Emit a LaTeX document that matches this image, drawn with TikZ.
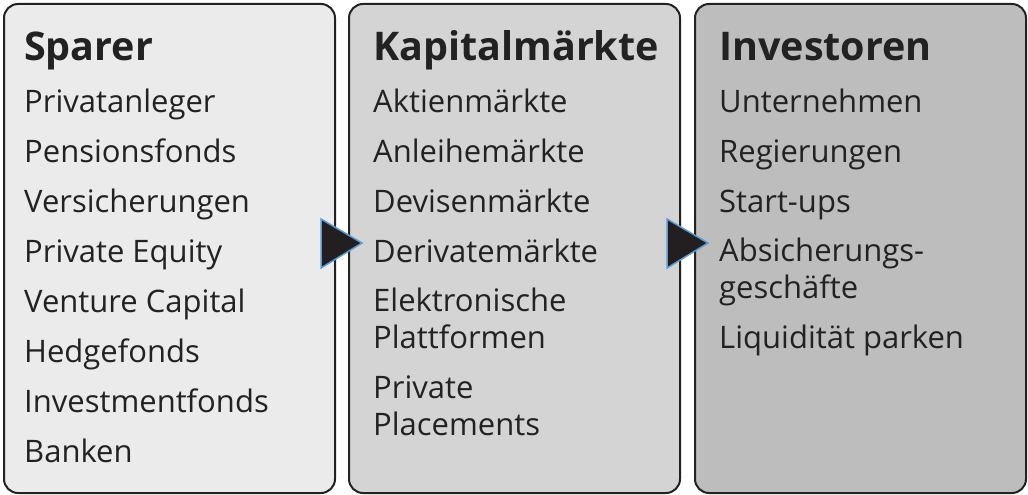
\documentclass[tikz,border=0pt]{standalone}
\usepackage{fontspec}
\setmainfont{Open Sans}
\usetikzlibrary{positioning}
\definecolor{boxA}{HTML}{EBEBEB}
\definecolor{boxB}{HTML}{D4D4D4}
\definecolor{boxC}{HTML}{BDBDBD}
\definecolor{edge}{HTML}{222222}
\definecolor{tip}{HTML}{231F20}
\definecolor{tipline}{HTML}{5B9BD5}
\begin{document}
\begin{tikzpicture}[x=1pt,y=-1pt,
    panel/.style={draw=edge, line width=2pt, rounded corners=14pt, minimum width=331pt, minimum height=489pt, inner sep=0pt, anchor=north west},
    head/.style={anchor=base west, inner sep=0pt, font=\fontsize{39.5}{44}\selectfont\bfseries, text=edge},
    item/.style={anchor=base west, inner sep=0pt, font=\fontsize{31}{37}\selectfont, text=edge, align=left},
    pointer/.style={fill=tip, draw=tipline, line width=1.5pt, line join=miter}]
    \useasboundingbox (0,0) rectangle (1028,495);

    % the three panels
    \node[panel, fill=boxA] (sparer) at (3,3) {};
    \node[panel, fill=boxB] (markt) at (348,3) {};
    \node[panel, fill=boxC] (invest) at (694,3) {};

    % headings
    \node[head] (h1) at (24,60) {Sparer};
    \node[head] (h2) at (373,60) {Kapitalmärkte};
    \node[head] (h3) at (719,60) {Investoren};

    % items of the first panel
    \foreach \t [count=\i] in {Privatanleger,Pensionsfonds,Versicherungen,Private Equity,Venture Capital,Hedgefonds,Investmentfonds,Banken}
        \node[item] (s\i) at (24,{62+50*\i}) {\t};

    % items of the second panel (base = last line)
    \node[item] (m1) at (373,112) {Aktienmärkte};
    \node[item] (m2) at (373,162) {Anleihemärkte};
    \node[item] (m3) at (373,212) {Devisenmärkte};
    \node[item] (m4) at (373,262) {Derivatemärkte};
    \node[item] (m5) at (373,348) {Elektronische\\Plattformen};
    \node[item] (m6) at (373,435) {Private\\Placements};

    % items of the third panel
    \node[item] (i1) at (719,112) {Unternehmen};
    \node[item] (i2) at (719,162) {Regierungen};
    \node[item] (i3) at (719,212) {Start-ups};
    \node[item] (i4) at (719,298) {Absicherungs-\\geschäfte};
    \node[item] (i5) at (719,348) {Liquidität parken};

    % the pointers
    \draw[pointer] (321,219) -- (362,243) -- (321,268) -- cycle;
    \draw[pointer] (667,219) -- (708,243) -- (667,268) -- cycle;
\end{tikzpicture}
\end{document}
